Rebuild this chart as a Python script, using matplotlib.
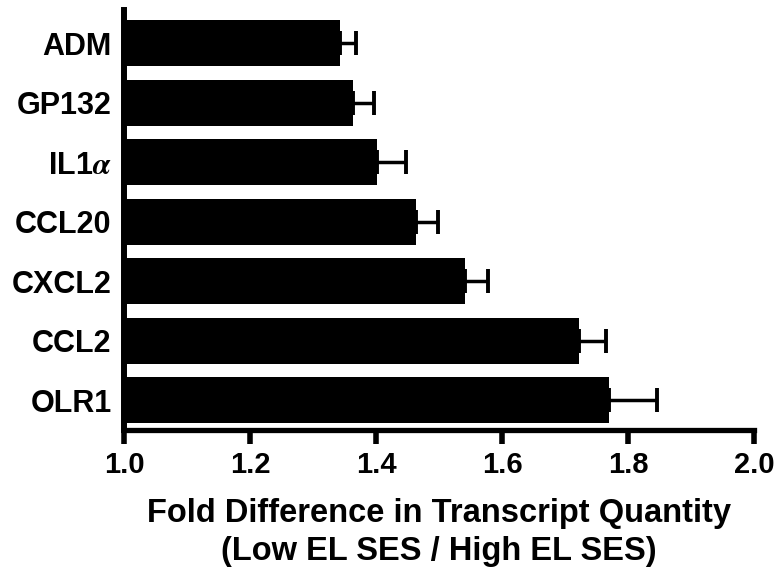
import matplotlib
matplotlib.use("Agg")
import matplotlib.pyplot as plt
import numpy as np

plt.rcParams['font.family'] = ['Liberation Sans', 'DejaVu Sans']
plt.rcParams['font.weight'] = 'bold'
plt.rcParams['mathtext.fontset'] = 'stix'

# top to bottom as drawn
genes = ['ADM', 'GP132', r'IL1$\alpha$', 'CCL20', 'CXCL2', 'CCL2', 'OLR1']
fold = [1.343, 1.363, 1.402, 1.463, 1.541, 1.722, 1.770]
sem = [0.025, 0.034, 0.045, 0.035, 0.036, 0.043, 0.076]
xticks = [1.0, 1.2, 1.4, 1.6, 1.8, 2.0]

fig = plt.figure(figsize=(7.75, 5.72), dpi=100)
ax = fig.add_axes([0.160, 0.2483, 0.813, 0.7342])

n = len(genes)
ypos = np.arange(n)[::-1]
base = 1.0
widths = [f - base for f in fold]
ax.barh(ypos, widths, left=base, height=0.77, color='black', edgecolor='none')
ax.errorbar(fold, ypos, xerr=[np.zeros(n), sem], fmt='none', ecolor='black',
            elinewidth=2.5, capsize=8.5, capthick=2.8)

ax.set_xlim(1.0, 2.0)
ax.set_ylim(-0.5, n - 1 + 0.56)
ax.set_xticks(xticks)
ax.set_xticklabels(['%.1f' % t for t in xticks], fontsize=21, fontweight='bold')
ax.set_yticks(ypos)
ax.set_yticklabels(genes, fontsize=22, fontweight='bold')
ax.tick_params(axis='x', length=10, width=4, direction='out', pad=5)
ax.tick_params(axis='y', length=0, pad=9)

for s in ['top', 'right']:
    ax.spines[s].set_visible(False)
ax.spines['left'].set_linewidth(4.3)
ax.spines['bottom'].set_linewidth(3.8)

ax.set_xlabel('Fold Difference in Transcript Quantity\n(Low EL SES / High EL SES)',
              fontsize=23.5, fontweight='bold', labelpad=14, linespacing=1.3)

fig.savefig('out.png', dpi=100)
